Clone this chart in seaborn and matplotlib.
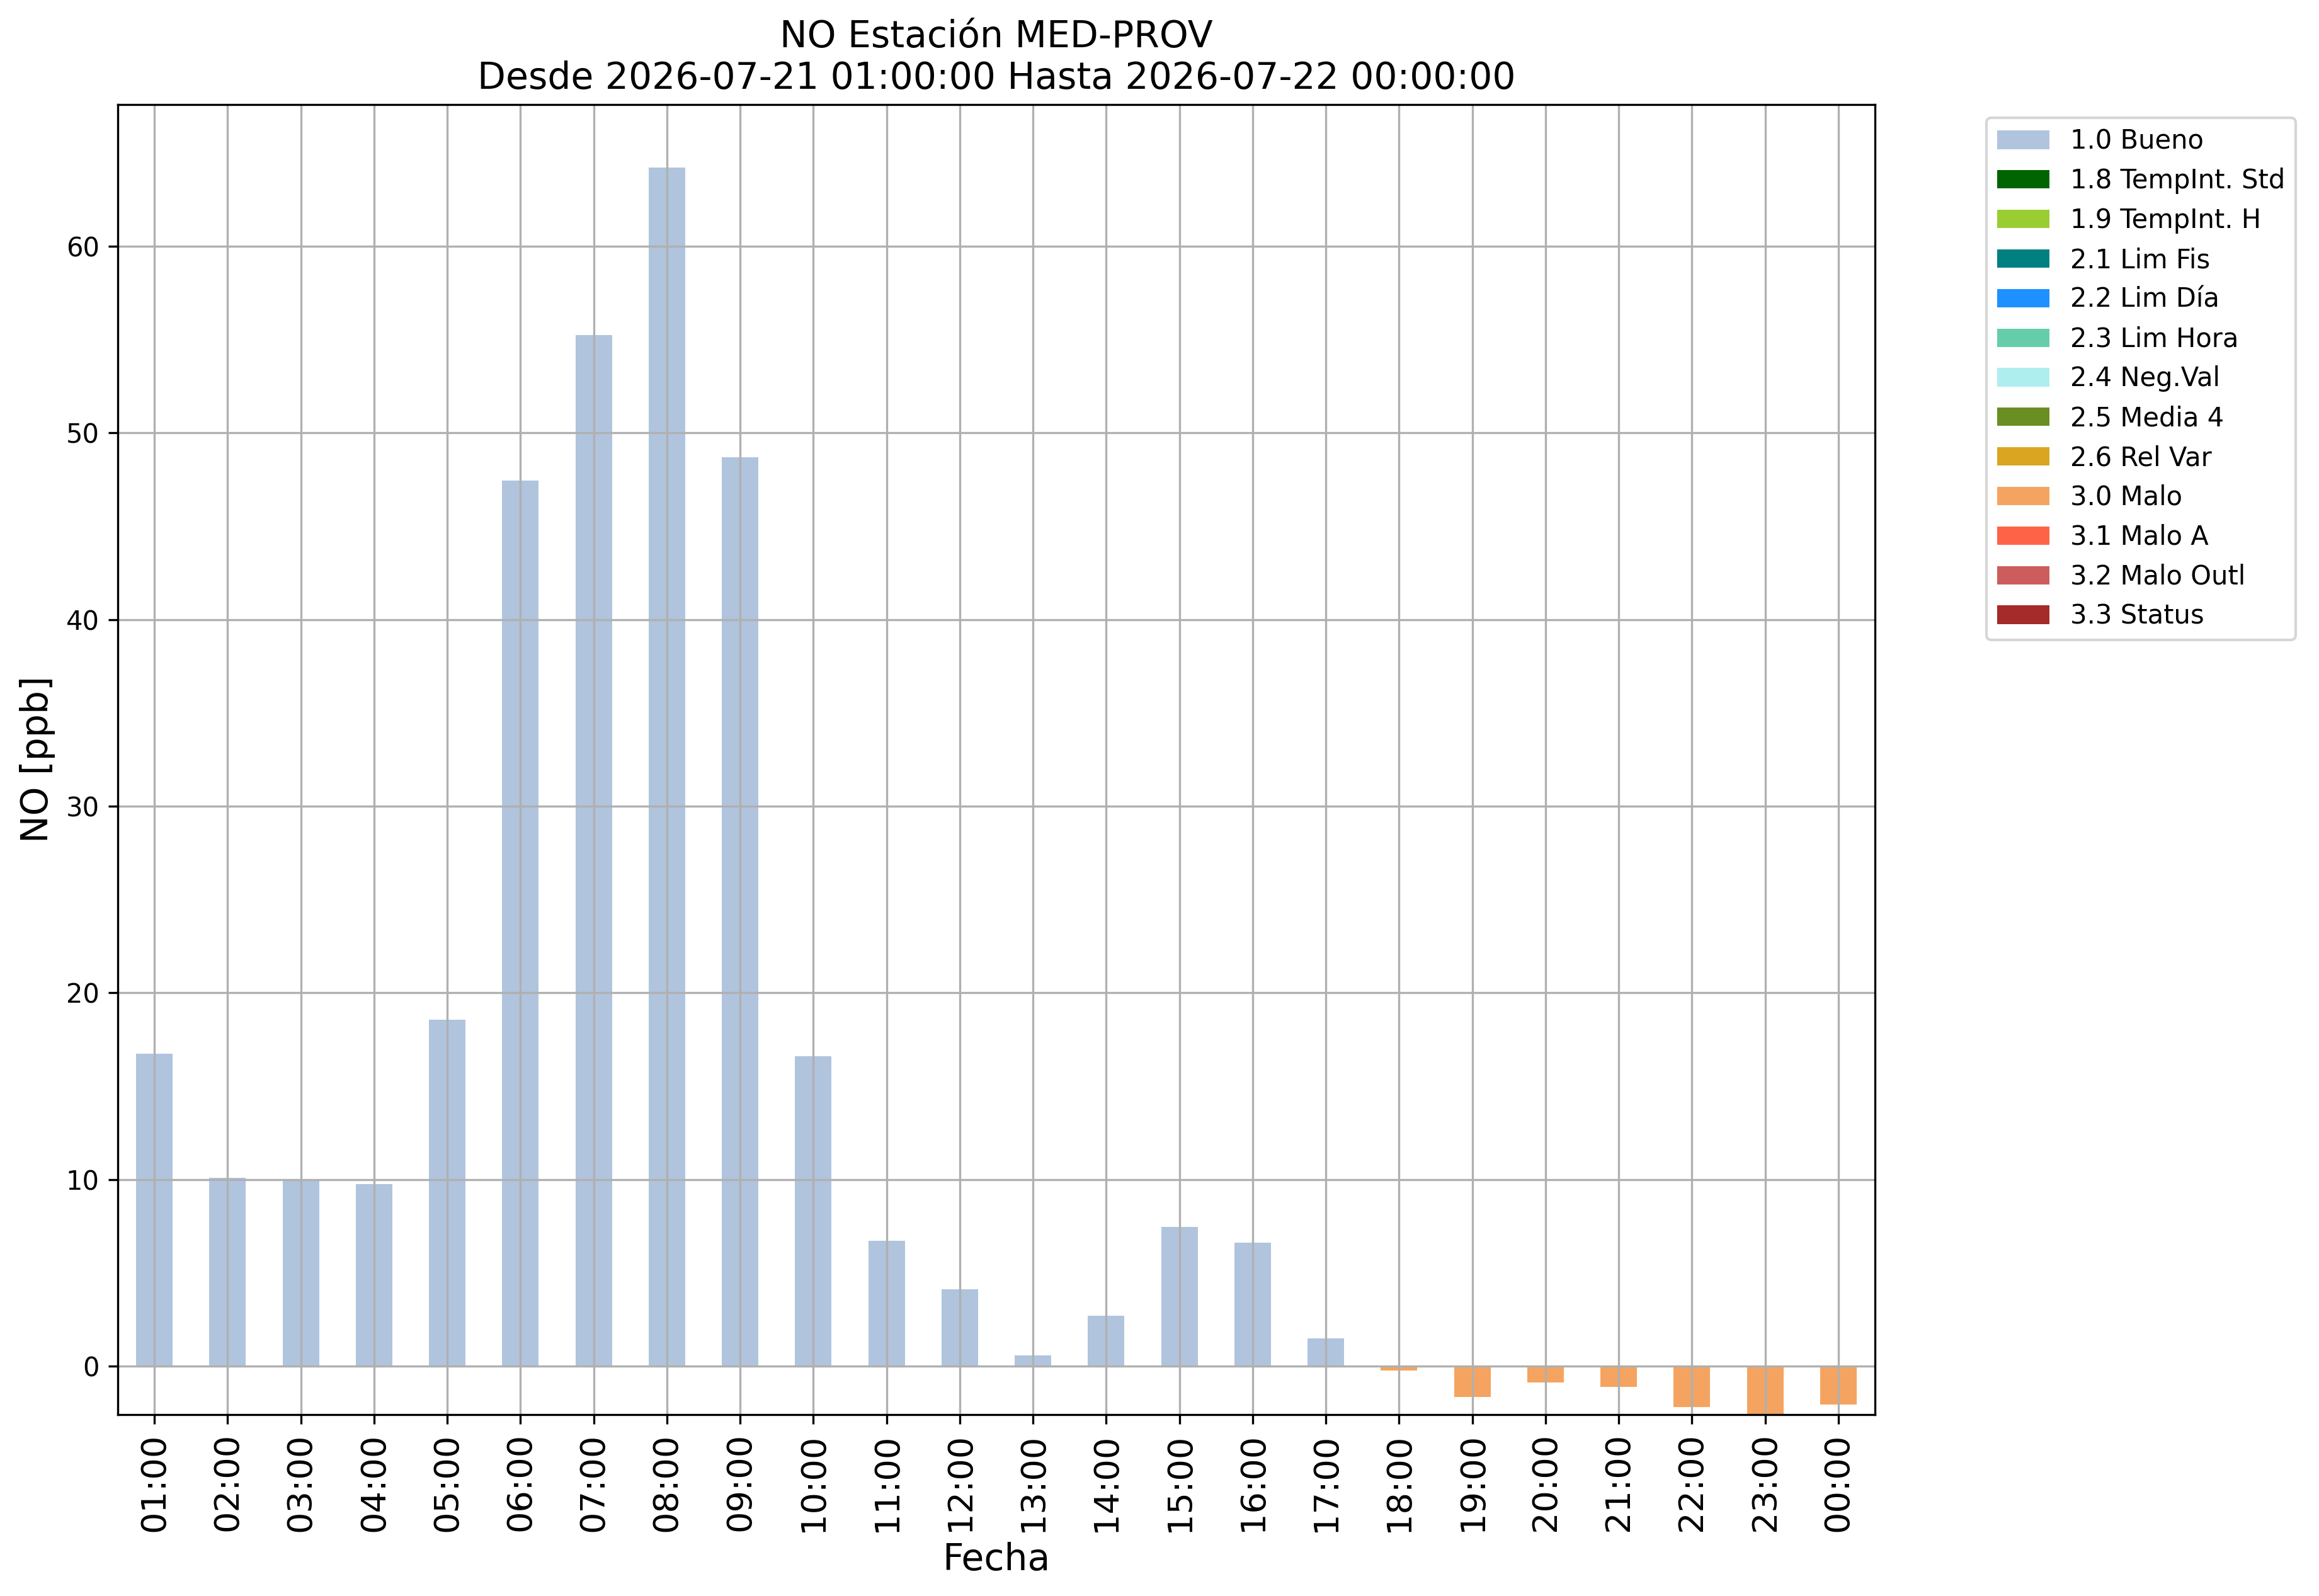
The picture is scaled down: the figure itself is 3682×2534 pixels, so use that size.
import pandas as pd
import matplotlib
matplotlib.use("Agg")
import matplotlib.pyplot as plt
import matplotlib.patches as mpatches
import seaborn as sns

# Horas del periodo
horas = ["01:00", "02:00", "03:00", "04:00", "05:00", "06:00", "07:00", "08:00",
         "09:00", "10:00", "11:00", "12:00", "13:00", "14:00", "15:00", "16:00",
         "17:00", "18:00", "19:00", "20:00", "21:00", "22:00", "23:00", "00:00"]

# Valores de NO [ppb]
valores_no = [16.75, 10.1, 10.0, 9.76, 18.57, 47.46, 55.25, 64.22,
              48.7, 16.6, 6.73, 4.1, 0.56, 2.71, 7.47, 6.6,
              1.47, -0.24, -1.65, -0.88, -1.11, -2.19, -2.6, -2.06]

# Flag de calidad de cada hora
flags = ["1.0 Bueno"] * 17 + ["3.0 Malo"] * 7

# Categorias de la leyenda y sus colores
etiquetas_flag = ["1.0 Bueno", "1.8 TempInt. Std", "1.9 TempInt. H", "2.1 Lim Fis",
                  "2.2 Lim Día", "2.3 Lim Hora", "2.4 Neg.Val", "2.5 Media 4",
                  "2.6 Rel Var", "3.0 Malo", "3.1 Malo A", "3.2 Malo Outl", "3.3 Status"]
colores_flag = ["lightsteelblue", "darkgreen", "yellowgreen", "teal",
                "dodgerblue", "mediumaquamarine", "paleturquoise", "olivedrab",
                "goldenrod", "sandybrown", "tomato", "indianred", "brown"]

df = pd.DataFrame({"Hora": horas, "NO": valores_no, "Flag": flags})
paleta = dict(zip(etiquetas_flag, colores_flag))

fig = plt.figure(figsize=(3682 / 300, 2534 / 300), dpi=300)
ax = fig.add_axes([187 / 3682, 1 - 2246 / 2534, (2977 - 187) / 3682, (2246 - 166) / 2534])

sns.barplot(data=df, x="Hora", y="NO", hue="Flag", order=horas,
            hue_order=etiquetas_flag, palette=paleta, dodge=False,
            width=0.5, saturation=1, errorbar=None, legend=False, ax=ax)

ax.set_xlim(-0.5, len(horas) - 0.5)
ax.set_ylim(-2.6, 67.6)
ax.grid(True)
ax.tick_params(axis="x", labelsize=13, labelrotation=90)
ax.tick_params(axis="y", labelsize=10)
ax.set_xlabel("Fecha", fontsize=14)
ax.set_ylabel("NO [ppb]", fontsize=14)
ax.set_title("NO Estación MED-PROV\nDesde 2026-07-21 01:00:00 Hasta 2026-07-22 00:00:00",
             fontsize=14)

handles = [mpatches.Patch(facecolor=c, label=l) for l, c in zip(etiquetas_flag, colores_flag)]
ax.legend(handles=handles, bbox_to_anchor=(1.056, 1), loc="upper left", fontsize=10)

plt.savefig("out.png", dpi=300)
